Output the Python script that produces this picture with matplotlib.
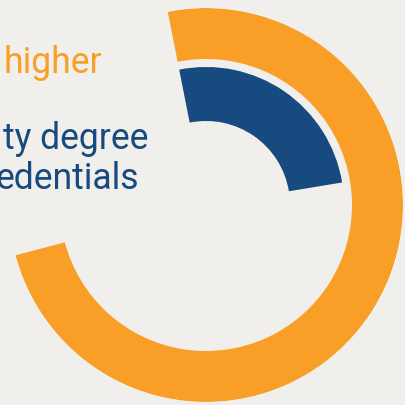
import matplotlib
matplotlib.use("Agg")
import matplotlib.pyplot as plt
import numpy as np

# Share of each group (percent of a full circle)
groups = ["higher", "degree"]
shares = [74, 25.5]

# Caption lines (right-aligned, running off the left edge)
captions = ["higher", "ty degree", "edentials"]

BG = "#F1EFEC"
ORANGE = "#F99F27"
BLUE = "#174A7E"

W = H = 406
fig = plt.figure(figsize=(W / 100, H / 100), dpi=100, facecolor=BG)

# Polar axes centred on the ring centre, radius in pixels
cx, cy, rmax = 206, 206, 197
ax = fig.add_axes([(cx - rmax) / W, (H - cy - rmax) / H, 2 * rmax / W, 2 * rmax / H],
                  projection="polar")
ax.set_facecolor("none")
ax.set_theta_direction(-1)
ax.set_theta_offset(np.deg2rad(90 + 11.2))
ax.set_ylim(0, rmax)
ax.axis("off")

rings = [(146, 197 - 146, ORANGE), (84, 138 - 84, BLUE)]
for share, (inner, thick, color) in zip(shares, rings):
    ax.bar(0, thick, width=share / 100 * 2 * np.pi, bottom=inner,
           align="edge", color=color, edgecolor="none", linewidth=0)

font = dict(family=["Roboto", "DejaVu Sans"], weight="normal", fontsize=25.6)
fig.text(102 / W, (H - 73) / H, captions[0], color=ORANGE, ha="right", va="baseline", **font)
fig.text(148 / W, (H - 149) / H, captions[1], color=BLUE, ha="right", va="baseline", **font)
fig.text(139 / W, (H - 189) / H, captions[2], color=BLUE, ha="right", va="baseline", **font)

fig.savefig("out.png", dpi=100, facecolor=BG)
